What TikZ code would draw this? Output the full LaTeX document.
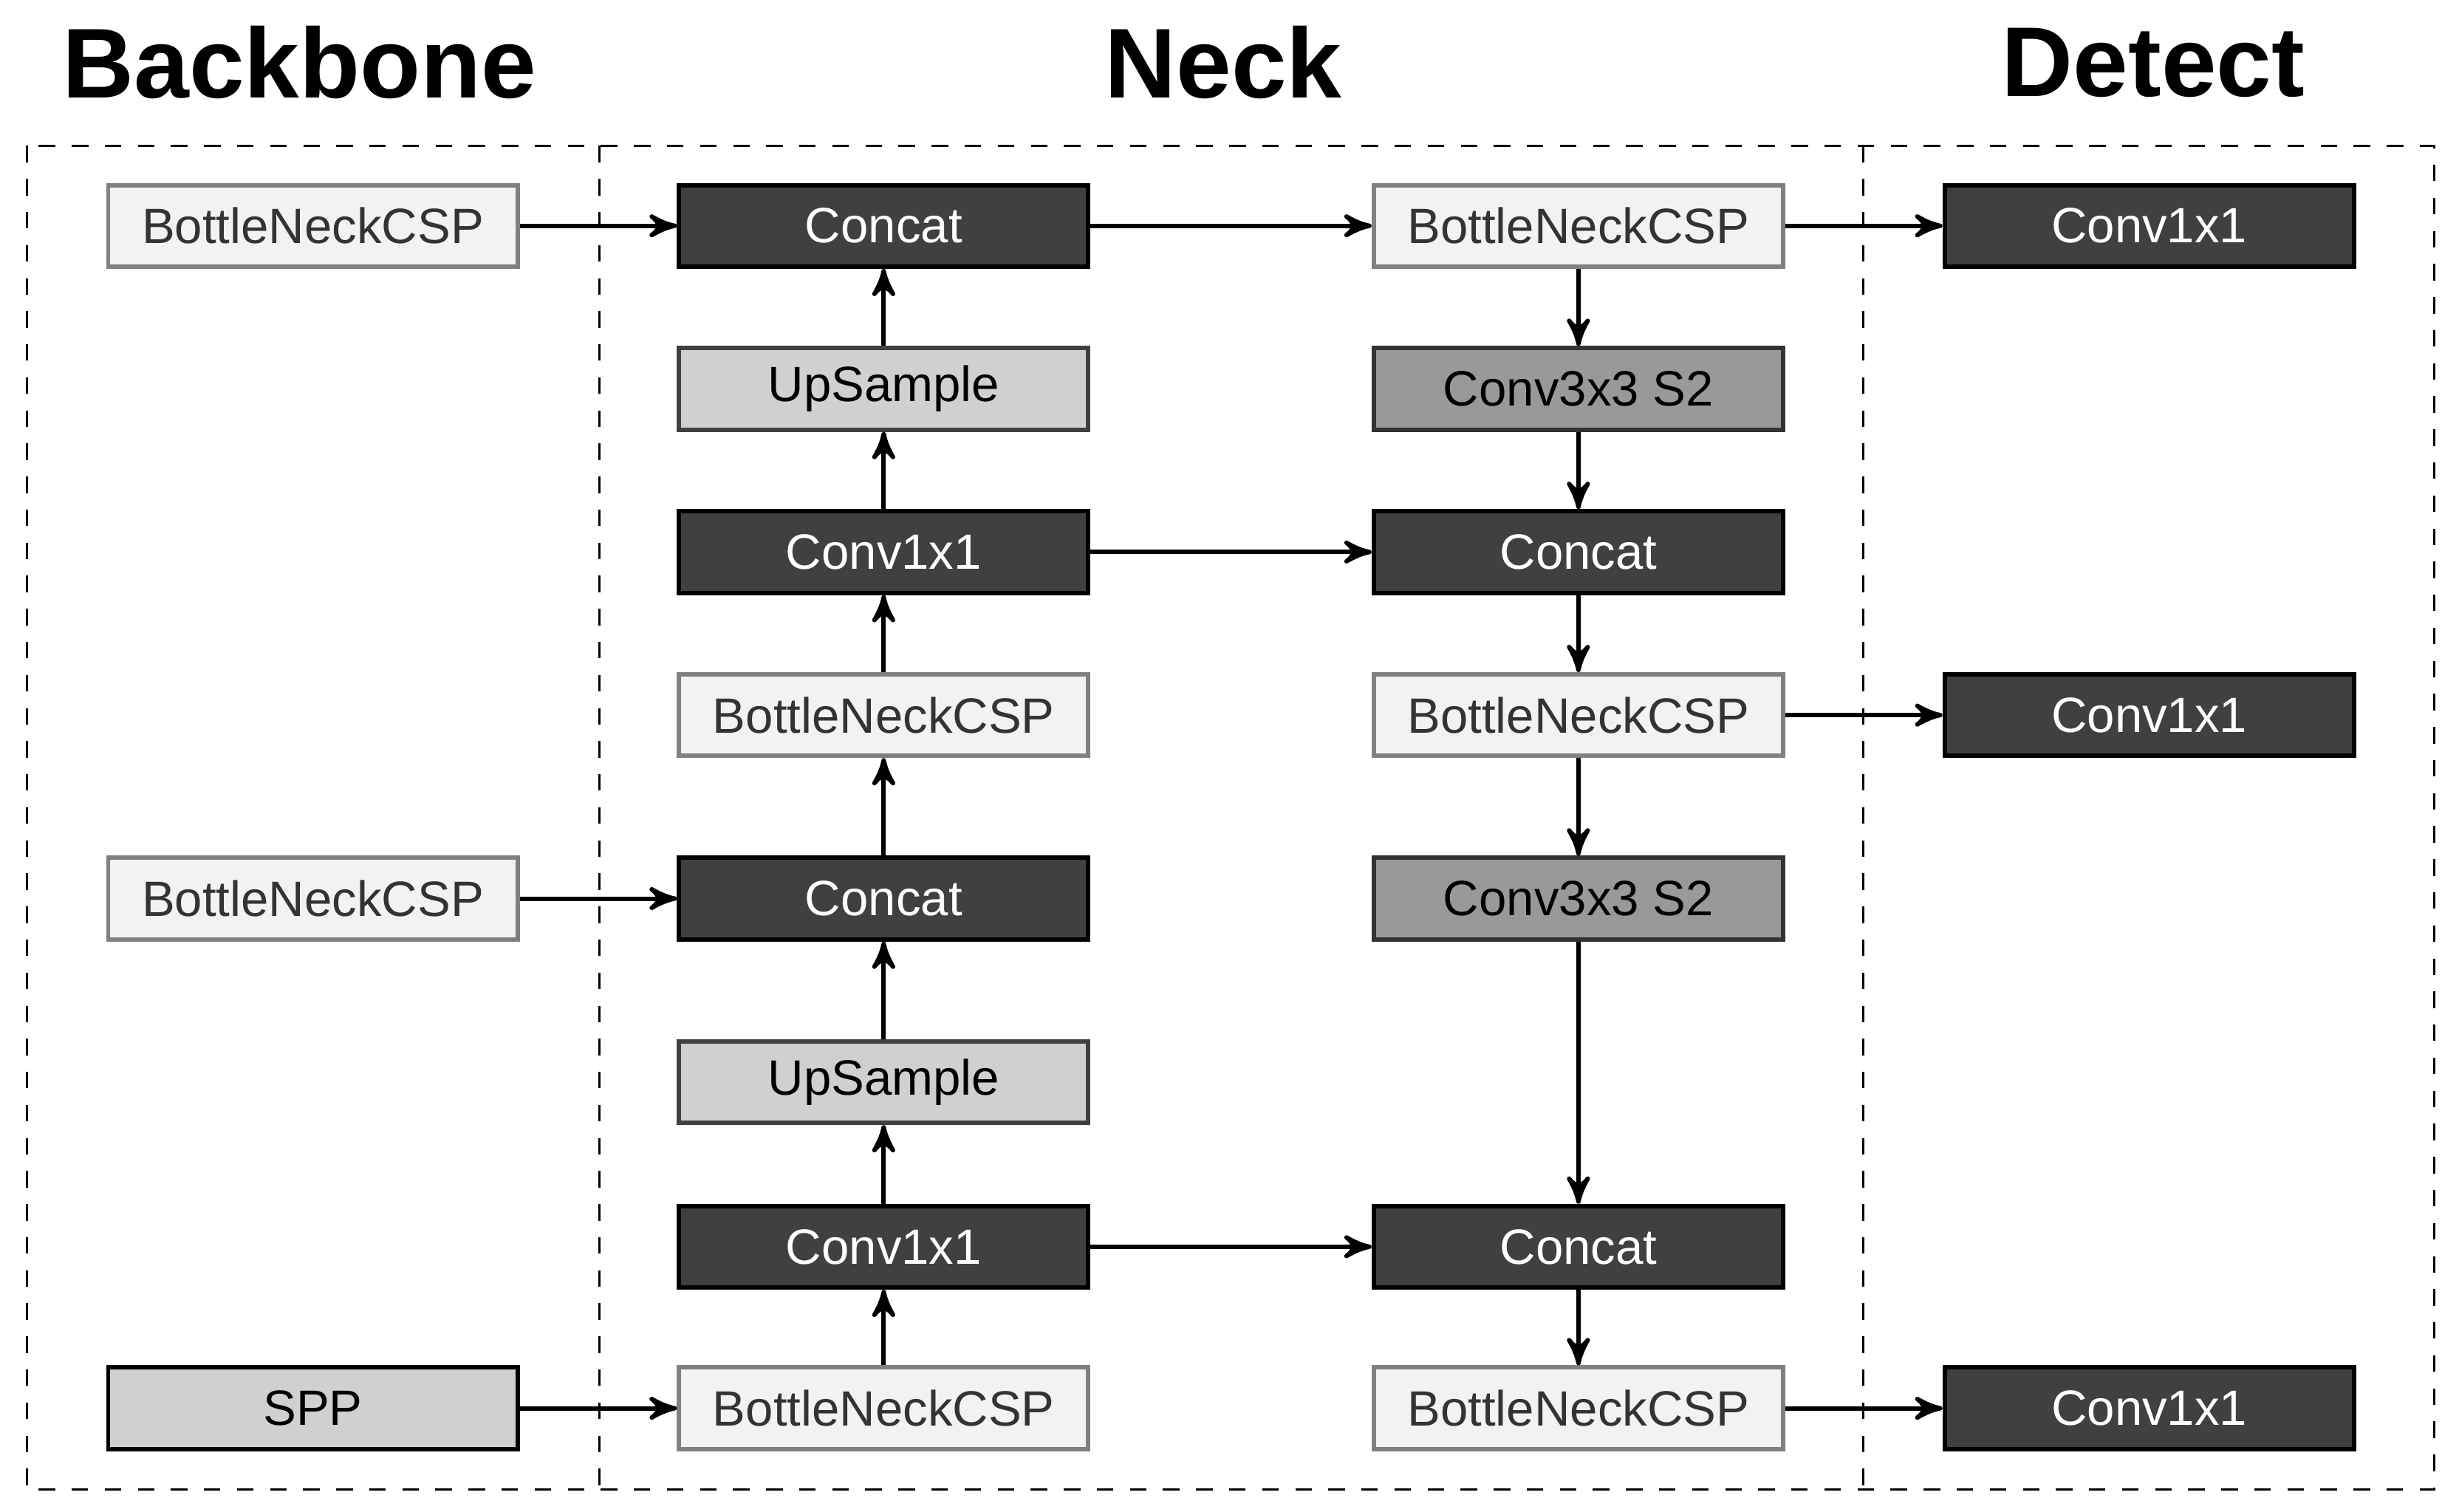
\documentclass[tikz,border=0pt]{standalone}
\usepackage{fontspec}
\setmainfont{Liberation Sans}
\usetikzlibrary{arrows}
\definecolor{darkbox}{HTML}{404040}
\definecolor{lightbox}{HTML}{F2F2F2}
\definecolor{midbox}{HTML}{D0D0D0}
\definecolor{convbox}{HTML}{999999}
\begin{document}
\begin{tikzpicture}[>=stealth',thick,
  blk/.style={draw,minimum width=2.61cm,minimum height=0.52cm,inner sep=0pt,font=\fontsize{9}{10}\selectfont},
  csp/.style={blk,fill=lightbox,draw=gray,text=black!80},
  dark/.style={blk,fill=darkbox,draw=black,text=white},
  up/.style={blk,fill=midbox,draw=darkbox,text=black},
  conv/.style={blk,fill=convbox,draw=black!80,text=black},
  title/.style={font=\fontsize{18}{20}\selectfont\bfseries}]
  \useasboundingbox (0,0) rectangle (15.68,-9.64);
  \draw[dashed,thin] (0.17,-0.93) rectangle (15.52,-9.50);
  \draw[dashed,thin] (3.82,-0.93) -- (3.82,-9.50);
  \draw[dashed,thin] (11.88,-0.93) -- (11.88,-9.50);
  \node[title] (tb) at (1.91,-0.40) {Backbone};
  \node[title] (tn) at (7.80,-0.40) {Neck};
  \node[title] (td) at (13.73,-0.40) {Detect};
  % backbone
  \node[csp] (b1) at (1.995,-1.44) {BottleNeckCSP};
  \node[csp] (b2) at (1.995,-5.73) {BottleNeckCSP};
  \node[up,draw=black] (spp) at (1.995,-8.98) {SPP};
  % neck, top-down
  \node[dark] (c1) at (5.635,-1.44) {Concat};
  \node[up] (u1) at (5.635,-2.48) {UpSample};
  \node[dark] (k1) at (5.635,-3.52) {Conv1x1};
  \node[csp] (n1) at (5.635,-4.56) {BottleNeckCSP};
  \node[dark] (c2) at (5.635,-5.73) {Concat};
  \node[up] (u2) at (5.635,-6.90) {UpSample};
  \node[dark] (k2) at (5.635,-7.95) {Conv1x1};
  \node[csp] (n2) at (5.635,-8.98) {BottleNeckCSP};
  % neck, bottom-up
  \node[csp] (p1) at (10.065,-1.44) {BottleNeckCSP};
  \node[conv] (s1) at (10.065,-2.48) {Conv3x3 S2};
  \node[dark] (c3) at (10.065,-3.52) {Concat};
  \node[csp] (p2) at (10.065,-4.56) {BottleNeckCSP};
  \node[conv] (s2) at (10.065,-5.73) {Conv3x3 S2};
  \node[dark] (c4) at (10.065,-7.95) {Concat};
  \node[csp] (p3) at (10.065,-8.98) {BottleNeckCSP};
  % detect
  \node[dark] (d1) at (13.705,-1.44) {Conv1x1};
  \node[dark] (d2) at (13.705,-4.56) {Conv1x1};
  \node[dark] (d3) at (13.705,-8.98) {Conv1x1};
  \path[->] (b1) edge (c1) (b2) edge (c2) (spp) edge (n2)
    (n2) edge (k2) (k2) edge (u2) (u2) edge (c2) (c2) edge (n1)
    (n1) edge (k1) (k1) edge (u1) (u1) edge (c1)
    (c1) edge (p1) (p1) edge (s1) (s1) edge (c3) (k1) edge (c3)
    (c3) edge (p2) (p2) edge (s2) (s2) edge (c4) (k2) edge (c4)
    (c4) edge (p3)
    (p1) edge (d1) (p2) edge (d2) (p3) edge (d3);
\end{tikzpicture}
\end{document}
